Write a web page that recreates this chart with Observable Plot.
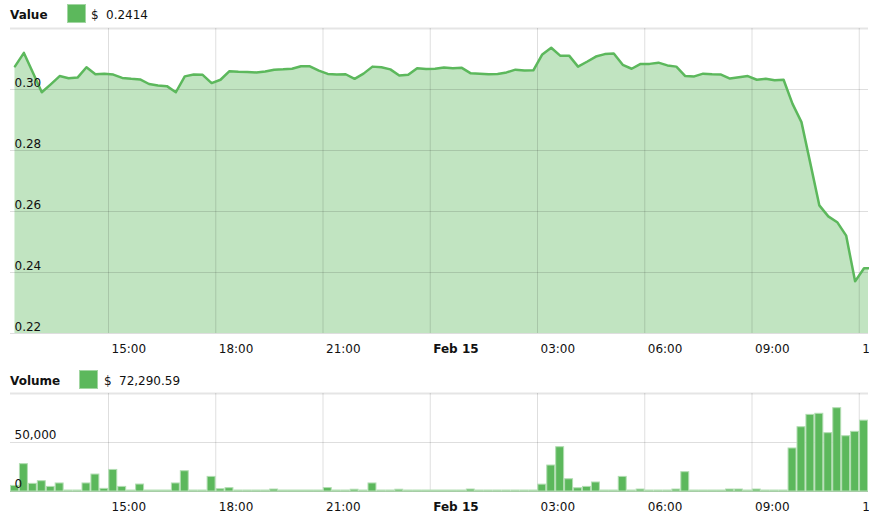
<!DOCTYPE html>
<html><head><meta charset="utf-8">
<script src="https://cdn.jsdelivr.net/npm/d3@7"></script>
<script src="https://cdn.jsdelivr.net/npm/@observablehq/plot@0.6"></script>
<style>
body{margin:0;background:#fff;font-family:"DejaVu Sans",Verdana,sans-serif;}
#wrap{position:relative;width:879px;height:519px;overflow:hidden;background:#fff;}
.t{position:absolute;font-size:12px;line-height:14px;color:#111;white-space:pre;}
.b{font-weight:bold;}
.sw{position:absolute;width:19px;height:19px;box-sizing:border-box;background:#5cb85c;border:1px solid #a2d6a2;}
.chart{position:absolute;left:0;}
.chart svg{display:block;overflow:hidden;}
</style></head><body>
<div id="wrap">
  <div class="t b" style="left:10px;top:8px">Value</div>
  <div class="sw" style="left:67px;top:4px"></div>
  <div class="t" style="left:91px;top:8px">$</div>
  <div class="t" style="left:106px;top:8px" id="curValue"></div>
  <div id="topChart" class="chart" style="top:20px"></div>
  <div class="t b" style="left:10px;top:374px">Volume</div>
  <div class="sw" style="left:79px;top:370px"></div>
  <div class="t" style="left:104px;top:374px">$</div>
  <div class="t" style="left:119px;top:374px" id="curVolume"></div>
  <div id="volChart" class="chart" style="top:385px"></div>
</div>
<script>
// ---- data (15-minute samples, Feb 14 12:23 UTC -> Feb 15 12:08 UTC) ----
const startTime = Date.UTC(2018, 1, 14, 12, 23);
const stepMinutes = 15;

const values = [
  0.3076, 0.3120, 0.3056, 0.2991, 0.3017, 0.3044, 0.3037, 0.3039, 0.3073, 0.3050,
  0.3052, 0.3049, 0.3038, 0.3035, 0.3033, 0.3018, 0.3013, 0.3011, 0.2991, 0.3043,
  0.3049, 0.3048, 0.3021, 0.3032, 0.3060, 0.3058, 0.3057, 0.3056, 0.3059, 0.3065,
  0.3066, 0.3068, 0.3076, 0.3076, 0.3062, 0.3051, 0.3049, 0.3050, 0.3035, 0.3052,
  0.3075, 0.3073, 0.3066, 0.3046, 0.3048, 0.3070, 0.3067, 0.3068, 0.3072, 0.3070,
  0.3071, 0.3053, 0.3052, 0.3050, 0.3051, 0.3056, 0.3065, 0.3062, 0.3063, 0.3115,
  0.3137, 0.3111, 0.3111, 0.3075, 0.3091, 0.3108, 0.3116, 0.3118, 0.3081, 0.3068,
  0.3084, 0.3084, 0.3088, 0.3079, 0.3075, 0.3044, 0.3043, 0.3052, 0.3050, 0.3049,
  0.3036, 0.3040, 0.3044, 0.3032, 0.3035, 0.3030, 0.3032, 0.2953, 0.2893, 0.2757,
  0.2620, 0.2584, 0.2565, 0.2521, 0.2371, 0.2414
];

const volumes = [
  5700, 27900, 7800, 10500, 4700, 8200, 1000, 1000, 8200, 17300,
  2700, 22000, 4700, 1000, 7100, 1000, 1000, 1000, 8200, 20700,
  1000, 1000, 14900, 2300, 3400, 1000, 1000, 1000, 1000, 2000,
  1000, 1000, 1000, 1000, 1000, 3500, 1000, 1000, 1800, 1000,
  8200, 1000, 1000, 1800, 1000, 1000, 1000, 1000, 1000, 1000,
  1000, 2000, 1000, 1000, 1000, 1000, 1000, 1000, 1000, 7000,
  26500, 45200, 12500, 3300, 4700, 9200, 1000, 1000, 14900, 1000,
  2000, 1000, 1000, 1000, 2000, 19700, 1000, 1000, 1000, 1000,
  2000, 2000, 1000, 2000, 1000, 1000, 1000, 43900, 65600, 78200,
  79300, 59500, 85000, 56400, 60900, 72290.59
];

const currentValue = 0.2414;
const currentVolume = 72290.59;

const valueTicks = [0.22, 0.24, 0.26, 0.28, 0.30];
const valueTop = 0.32;
const volumeTicks = [0, 50000];
const volumeTop = 100000;

const xTickTimes = [
  Date.UTC(2018, 1, 14, 15), Date.UTC(2018, 1, 14, 18), Date.UTC(2018, 1, 14, 21),
  Date.UTC(2018, 1, 15, 0), Date.UTC(2018, 1, 15, 3), Date.UTC(2018, 1, 15, 6),
  Date.UTC(2018, 1, 15, 9), Date.UTC(2018, 1, 15, 12)
];
const xTickLabels = ["15:00", "18:00", "21:00", "Feb 15", "03:00", "06:00", "09:00", "12:00"];
const xTickBold = [false, false, false, true, false, false, false, false];

const xDomain = [new Date(Date.UTC(2018, 1, 14, 12, 15, 30)), new Date(Date.UTC(2018, 1, 15, 12, 15, 30))];

// ---- derived tables ----
const stepMs = stepMinutes * 60 * 1000;
const valueData = values.map((v, i) => ({t: new Date(startTime + i * stepMs), v}));
valueData.push({t: xDomain[1], v: currentValue});
const volData = volumes.map((v, i) => ({
  t0: new Date(startTime + i * stepMs - stepMs / 2),
  t1: new Date(startTime + i * stepMs + stepMs / 2),
  v
}));
const xTicks = xTickTimes.map((t, i) => ({t: new Date(t), label: xTickLabels[i], bold: xTickBold[i]}));

document.getElementById("curValue").textContent = d3.format(".4f")(currentValue);
document.getElementById("curVolume").textContent = d3.format(",.2f")(currentVolume);

const green = "#5cb85c";
const ink = "#111";

function xLabels() {
  const common = {x: "t", text: "label", frameAnchor: "bottom", textAnchor: "start", dx: 3, dy: 19, fill: ink, fontSize: 12};
  return [
    Plot.text(xTicks.filter(d => !d.bold), common),
    Plot.text(xTicks.filter(d => d.bold), {...common, fontWeight: "bold"})
  ];
}
const baseStyle = {fontFamily: "'DejaVu Sans', Verdana, sans-serif", fontSize: "12px", background: "transparent", overflow: "hidden"};

const topPlot = Plot.plot({
  width: 869, height: 340,
  marginTop: 8, marginBottom: 27, marginLeft: 10, marginRight: 1,
  style: baseStyle,
  x: {type: "utc", domain: xDomain, axis: null},
  y: {domain: [0.22, valueTop], axis: null},
  marks: [
    Plot.areaY(valueData, {x: "t", y1: 0.22, y2: "v", fill: green, fillOpacity: 0.38}),
    Plot.ruleY(valueTicks, {stroke: "#000", strokeOpacity: 0.13}),
    Plot.ruleY([valueTop], {stroke: "#000", strokeOpacity: 0.1, strokeWidth: 2}),
    Plot.ruleX(xTicks, {x: "t", stroke: "#000", strokeOpacity: 0.13}),
    Plot.lineY(valueData, {x: "t", y: "v", stroke: green, strokeWidth: 2.5}),
    Plot.text(valueTicks, {y: d => d, text: d => d3.format(".2f")(d), frameAnchor: "left", textAnchor: "start", dx: 4, dy: -6, fill: ink, fontSize: 12}),
    ...xLabels()
  ]
});
document.getElementById("topChart").append(topPlot);

const volPlot = Plot.plot({
  width: 869, height: 134,
  marginTop: 8, marginBottom: 28, marginLeft: 10, marginRight: 1,
  style: baseStyle,
  x: {type: "utc", domain: xDomain, axis: null},
  y: {domain: [0, volumeTop], axis: null},
  marks: [
    Plot.ruleY([50000], {stroke: "#000", strokeOpacity: 0.13}),
    Plot.ruleY([volumeTop], {stroke: "#000", strokeOpacity: 0.1, strokeWidth: 2}),
    Plot.ruleX(xTicks, {x: "t", stroke: "#000", strokeOpacity: 0.13}),
    Plot.rectY(volData, {x1: "t0", x2: "t1", y: "v", fill: green, stroke: "#b2ddb2", strokeWidth: 1, insetLeft: 0.5, insetRight: 0.5}),
    Plot.ruleY([0], {stroke: "#4a8f4a", strokeOpacity: 0.35}),
    Plot.text(volumeTicks, {y: d => d, text: d => d3.format(",")(d), frameAnchor: "left", textAnchor: "start", dx: 4, dy: -7, fill: ink, fontSize: 12}),
    ...xLabels()
  ]
});
document.getElementById("volChart").append(volPlot);
</script>
</body></html>
